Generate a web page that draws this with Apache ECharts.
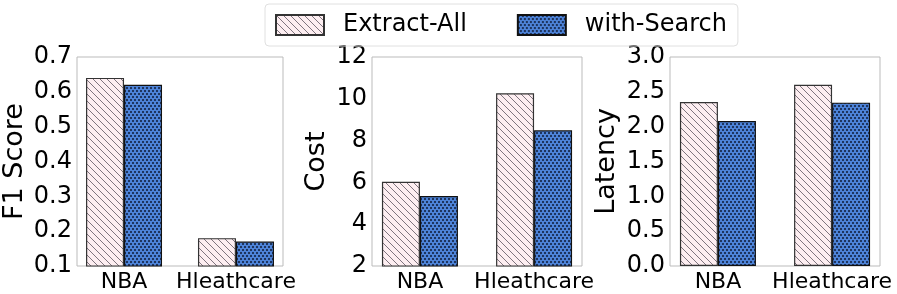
<!DOCTYPE html>
<html><head><meta charset="utf-8">
<script src="https://cdn.jsdelivr.net/npm/echarts@6/dist/echarts.min.js"></script>
<style>html,body{margin:0;padding:0;background:#fff}#c{width:897px;height:294px}</style>
</head><body><div id="c"></div>
<script>
// ---- data ----
const categories = ['NBA', 'Hleathcare'];
const seriesNames = ['Extract-All', 'with-Search'];
const f1Extract = [0.64, 0.18];
const f1Search = [0.62, 0.17];
const costExtract = [6.03, 10.26];
const costSearch = [5.35, 8.49];
const latExtract = [2.355, 2.60];
const latSearch = [2.08, 2.345];
const yNames = ['F1 Score', 'Cost', 'Latency'];
const yMins = [0.1, 2, 0];
const yMaxs = [0.7, 12, 3];
const yIntervals = [0.1, 2, 0.5];
const yDecimals = [1, 0, 1];

// ---- patterns ----
function hatchPattern() {
  const s = 7;
  const c = document.createElement('canvas');
  c.width = s; c.height = s;
  const g = c.getContext('2d');
  g.fillStyle = '#fdeef1';
  g.fillRect(0, 0, s, s);
  g.strokeStyle = '#6f6570';
  g.lineWidth = 0.9;
  g.beginPath();
  g.moveTo(-1, -1); g.lineTo(s + 1, s + 1);
  g.moveTo(-1, s - 1); g.lineTo(1, s + 1);
  g.moveTo(s - 1, -1); g.lineTo(s + 1, 1);
  g.stroke();
  return c;
}
function dotPattern() {
  const w = 4, h = 6;
  const c = document.createElement('canvas');
  c.width = w; c.height = h;
  const g = c.getContext('2d');
  g.fillStyle = '#4d83d8';
  g.fillRect(0, 0, w, h);
  g.fillStyle = '#1e3560';
  g.fillRect(0, 0, 2, 2);
  g.fillRect(2, 3, 2, 2);
  return c;
}
const pat1 = { image: hatchPattern(), repeat: 'repeat' };
const pat2 = { image: dotPattern(), repeat: 'repeat' };

const FONT = 'DejaVu Sans';
const gridLefts = [72, 372, 670];
const gridWidths = [211, 210, 210];
const nameGaps = [49, 42, 50];

const grids = [], xAxes = [], yAxes = [], series = [];
const ext = [f1Extract, costExtract, latExtract];
const srch = [f1Search, costSearch, latSearch];
for (let i = 0; i < 3; i++) {
  grids.push({ left: gridLefts[i], width: gridWidths[i], top: 57, height: 209,
    show: true, borderColor: '#bbbbbb', borderWidth: 1, backgroundColor: 'transparent' });
  xAxes.push({ type: 'value', gridIndex: i, min: -0.42, max: 1.42,
    axisLine: { show: false }, axisTick: { show: false }, splitLine: { show: false },
    axisLabel: { customValues: [0, 1], formatter: v => categories[Math.round(v)],
      fontSize: 22, color: '#000', fontFamily: FONT, margin: 5 } });
  const d = yDecimals[i];
  yAxes.push({ type: 'value', gridIndex: i, min: yMins[i], max: yMaxs[i], interval: yIntervals[i],
    name: yNames[i], nameLocation: 'middle', nameGap: nameGaps[i],
    nameTextStyle: { fontSize: 27, color: '#000', fontFamily: FONT },
    axisLine: { show: false }, axisTick: { show: false }, splitLine: { show: false },
    axisLabel: { formatter: v => v.toFixed(d), fontSize: 24, color: '#000', fontFamily: FONT, margin: 5 } });
  series.push({ name: seriesNames[0], type: 'bar', xAxisIndex: i, yAxisIndex: i,
    barWidth: 38, barGap: '0%',
    itemStyle: { color: pat1, borderColor: '#333', borderWidth: 1.2 },
    data: categories.map((c, k) => [k, ext[i][k]]) });
  series.push({ name: seriesNames[1], type: 'bar', xAxisIndex: i, yAxisIndex: i,
    barWidth: 38, barGap: '0%',
    itemStyle: { color: pat2, borderColor: '#111', borderWidth: 1.2 },
    data: categories.map((c, k) => [k, srch[i][k]]) });
}

const chart = echarts.init(document.getElementById('c'), null, { renderer: 'canvas' });
chart.setOption({
  animation: false,
  backgroundColor: '#fff',
  legend: { data: seriesNames, left: 265, top: 4, padding: [9, 11, 9, 10],
    borderColor: '#e0e0e0', borderWidth: 1, borderRadius: 4,
    itemWidth: 48, itemHeight: 20, itemGap: 50, icon: 'rect',
    textStyle: { fontSize: 24, color: '#000', fontFamily: FONT, padding: [0, 0, 0, 14] } },
  grid: grids, xAxis: xAxes, yAxis: yAxes, series: series
});
</script></body></html>
